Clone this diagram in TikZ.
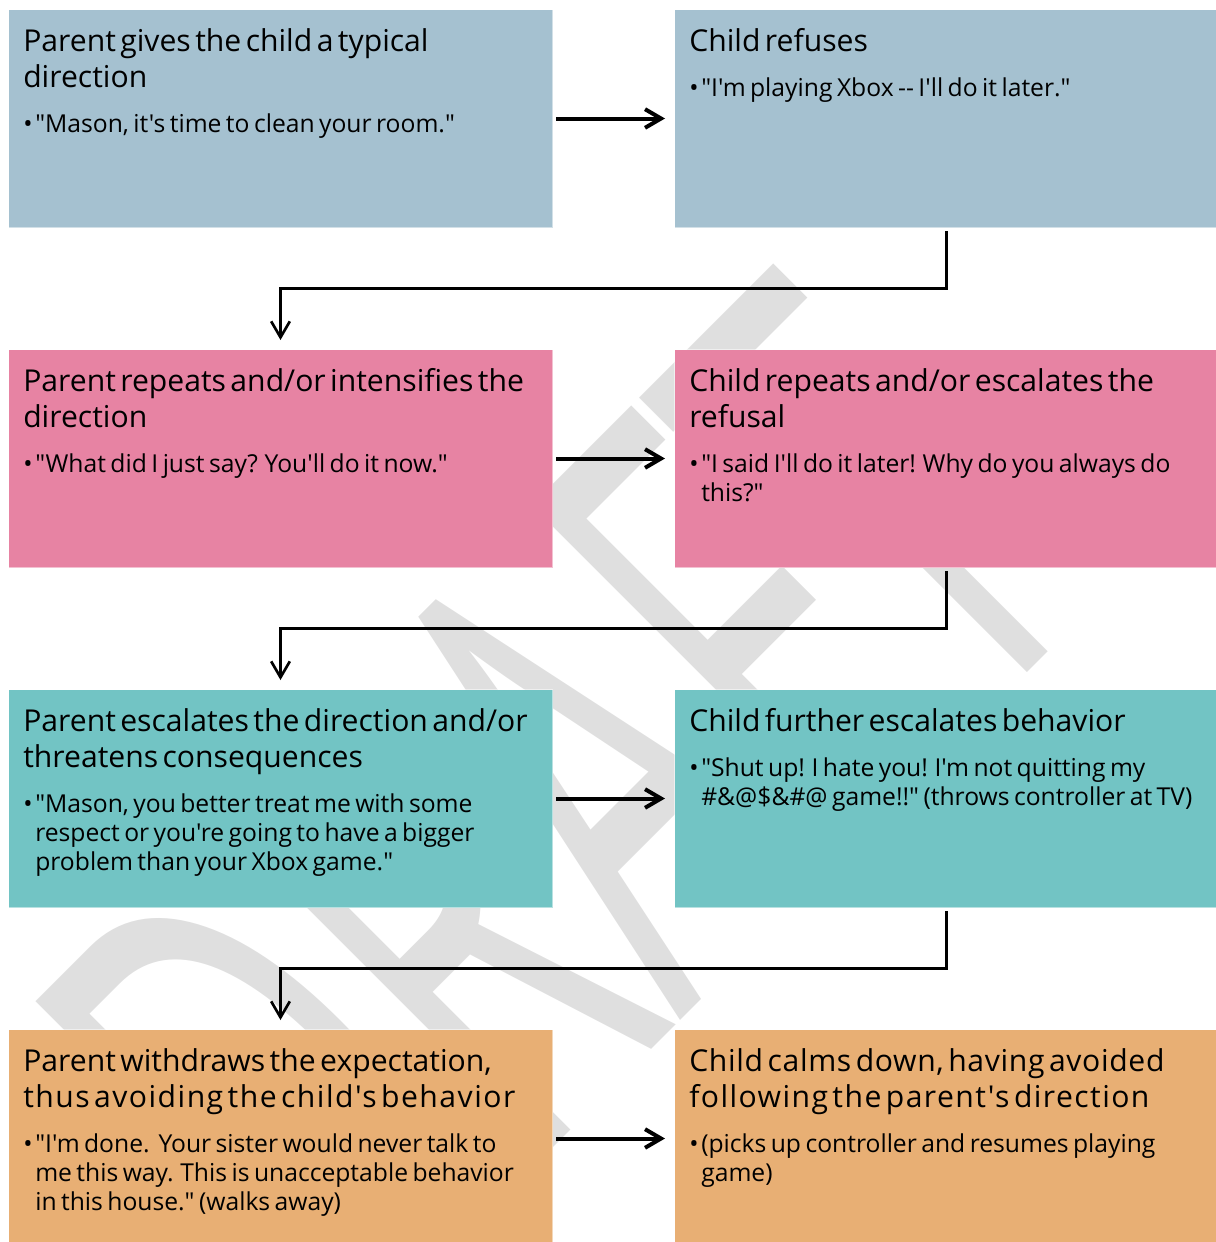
\documentclass[tikz,border=0pt]{standalone}
\usepackage{fontspec}
\setmainfont{Open Sans}[Ligatures=TeXOff]
\usetikzlibrary{positioning,calc,arrows.meta}

\definecolor{stepblue}{HTML}{A5C1D0}
\definecolor{steppink}{HTML}{E783A3}
\definecolor{stepteal}{HTML}{72C4C4}
\definecolor{steporange}{HTML}{E8AF74}
\definecolor{draftgray}{HTML}{DFDFDF}

\newcommand{\stagetitle}[1]{{\fontsize{22.6pt}{27pt}\selectfont\noindent #1\par}}
\newcommand{\stagequote}[1]{\vspace{11.75pt}{\fontsize{18.5pt}{22pt}\selectfont\noindent\hangindent=9pt\hangafter=1\makebox[9pt][l]{•}#1\par}}
\newcommand{\spread}[2]{{\addfontfeature{LetterSpace=#1}#2}}

\tikzset{
  stage/.style={rectangle, inner sep=0pt, minimum width=408pt, minimum height=163.5pt, anchor=north west, draw=white, draw opacity=0.5, line width=0.75pt},
  stagetext/.style={inner sep=0pt, text width=400pt},
  flow/.style={-{Straight Barb[length=12pt,width=14pt]}, line width=3pt, shorten <=2.25pt, shorten >=6.75pt},
  turn/.style={flow, line width=2pt},
}

\begin{document}
\begin{tikzpicture}[x=0.75pt,y=-0.75pt]
\useasboundingbox (0,0) rectangle (1216,1242);

% watermark
\begin{scope}[shift={(342,1358)}, rotate=45, yscale=1.85]
\node[anchor=base west, inner sep=0pt, text=draftgray, font=\fontsize{266pt}{266pt}\selectfont, transform shape] (draft) at (0,0) {DRAFT};
\end{scope}

% boxes
\node[stage, fill=stepblue] (pgives) at (8,9) {};
\node[stage, fill=stepblue] (crefuses) at (674,9) {};
\node[stage, fill=steppink] (prepeats) at (8,349) {};
\node[stage, fill=steppink] (crepeats) at (674,349) {};
\node[stage, fill=stepteal] (pescalates) at (8,689) {};
\node[stage, fill=stepteal] (cescalates) at (674,689) {};
\node[stage, fill=steporange] (pwithdraws) at (8,1029) {};
\node[stage, fill=steporange] (ccalms) at (674,1029) {};

% texts
\node[stagetext, below right=14.25pt and 11.25pt of pgives.north west] (pgives-t)
  {\stagetitle{Parent gives the child a typical\newline direction}\stagequote{"Mason, it's time to clean your room."}};
\node[stagetext, below right=14.25pt and 11.25pt of crefuses.north west] (crefuses-t)
  {\stagetitle{Child refuses}\stagequote{"I'm playing Xbox -- I'll do it later."}};
\node[stagetext, below right=14.25pt and 11.25pt of prepeats.north west] (prepeats-t)
  {\stagetitle{Parent repeats and/or intensifies the\newline direction}\stagequote{"What did I just say? You'll do it now."}};
\node[stagetext, below right=14.25pt and 11.25pt of crepeats.north west] (crepeats-t)
  {\stagetitle{Child repeats and/or escalates the\newline refusal}\stagequote{"I said I'll do it later! Why do you always do\newline this?"}};
\node[stagetext, below right=14.25pt and 11.25pt of pescalates.north west] (pescalates-t)
  {\stagetitle{Parent escalates the direction and/or\newline threatens consequences}\stagequote{"Mason, you better treat me with some\newline respect or you're going to have a bigger\newline problem than your Xbox game."}};
\node[stagetext, below right=14.25pt and 11.25pt of cescalates.north west] (cescalates-t)
  {\stagetitle{Child further escalates behavior}\stagequote{"Shut up! I hate you! I'm not quitting my\newline \#\&@\$\&\#@ game!!" (throws controller at TV)}};
\node[stagetext, below right=14.25pt and 11.25pt of pwithdraws.north west] (pwithdraws-t)
  {\stagetitle{Parent withdraws the expectation,\newline \spread{4.9}{thus avoiding the child's behavior}}\stagequote{"I'm done.\ \ Your sister would never talk to\newline me this way. This is unacceptable behavior\newline in this house." (walks away)}};
\node[stagetext, below right=14.25pt and 11.25pt of ccalms.north west] (ccalms-t)
  {\stagetitle{\spread{2.2}{Child calms down, having avoided}\newline \spread{4.75}{following the parent's direction}}\stagequote{(picks up controller and resumes playing\newline game)}};

% arrows
\draw[flow] (pgives.east) -- (crefuses.west);
\draw[flow] (prepeats.east) -- (crepeats.west);
\draw[flow] (pescalates.east) -- (cescalates.west);
\draw[flow] (pwithdraws.east) -- (ccalms.west);

\draw[turn] (crefuses.south) |- ($(crefuses.south)!.5!(prepeats.north)$) -| (prepeats.north);
\draw[turn] (crepeats.south) |- ($(crepeats.south)!.5!(pescalates.north)$) -| (pescalates.north);
\draw[turn] (cescalates.south) |- ($(cescalates.south)!.5!(pwithdraws.north)$) -| (pwithdraws.north);
\end{tikzpicture}
\end{document}
